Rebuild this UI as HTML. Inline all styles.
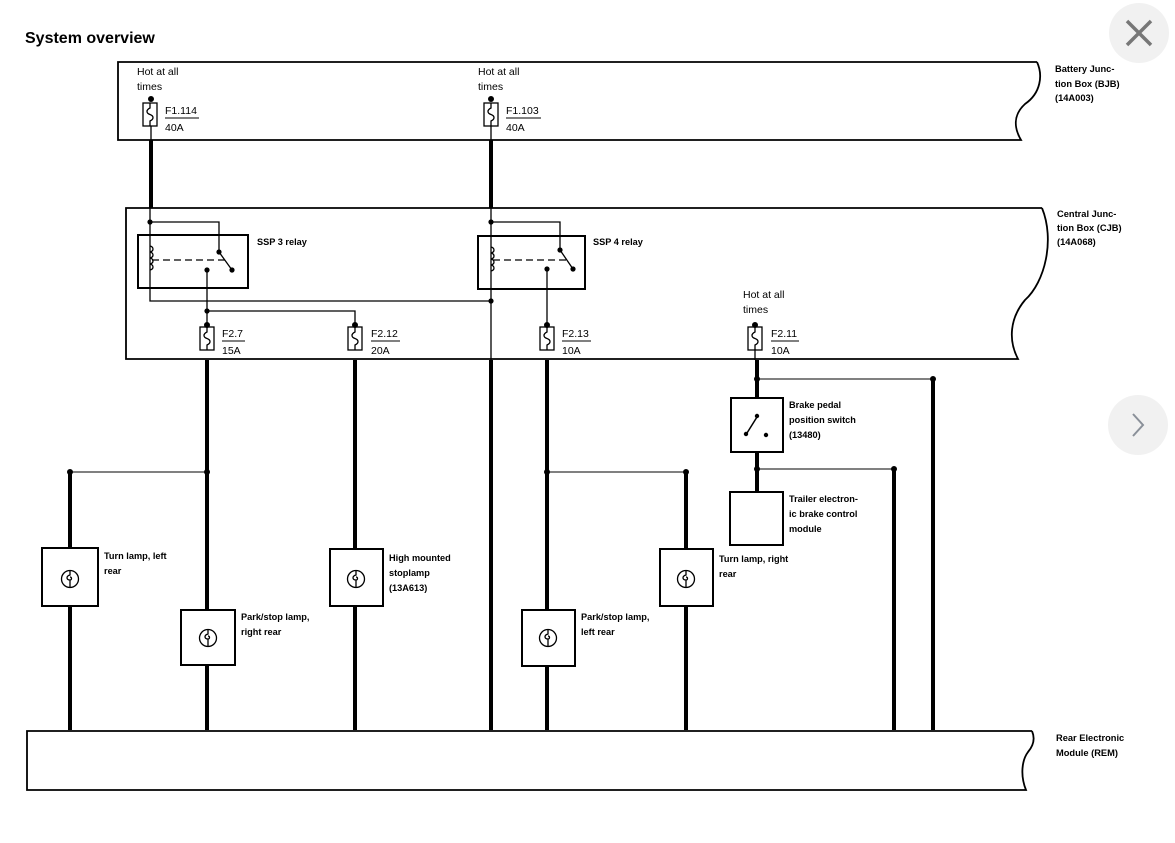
<!DOCTYPE html>
<html><head><meta charset="utf-8"><style>
html,body{margin:0;padding:0;background:#fff;}
svg{display:block;}
text{font-family:"Liberation Sans",sans-serif;fill:#000;}
.b{font-weight:bold;font-size:9.2px;}
.r{font-weight:bold;font-size:9.3px;}
.n{font-size:10.5px;}
</style></head><body>
<svg width="1175" height="843" viewBox="0 0 1175 843" xmlns="http://www.w3.org/2000/svg">
<defs>
<g id="lamp" fill="none" stroke="#000" stroke-width="1.3">
<circle cx="0" cy="0" r="8.5"/>
<path d="M0,-8.5 V-4 C-4,-3 -4,1 0,1 C2,1 2,-2 0,-2 M0,1 V8.5"/>
</g>
<g id="fuse" fill="none" stroke="#000" stroke-width="1.3">
<rect x="-7" y="0" width="14" height="23"/>
<path d="M0,0 V5 C-4,7 -4,10 0,11.5 C4,13 4,16 0,18 V23"/>
</g>
</defs>

<text x="25" y="43" style="font-weight:bold;font-size:16px">System overview</text>

<circle cx="1139" cy="33" r="30" fill="#f1f1f1"/>
<path d="M1127,21 L1151,45 M1151,21 L1127,45" stroke="#777" stroke-width="3.5"/>
<circle cx="1138" cy="425" r="30" fill="#f1f1f1"/>
<path d="M1133,414 L1143,425 L1133,436" stroke="#8a9099" stroke-width="2" fill="none"/>

<g stroke="#000" fill="none" stroke-width="1.8">
<path d="M1037,62 H118 V140 H1021 C1014,128 1013,115 1025,104 C1041,93 1043,75 1037,62"/>
<path d="M1042,208 H126 V359 H1018 C1008,340 1010,318 1025,300 C1045,282 1055,240 1042,208"/>
<path d="M1032,731 H27 V790 H1026 C1020,775 1022,760 1028,752 C1034,745 1035,738 1032,731"/>
</g>

<text class="n" x="137" y="75">Hot at all</text>
<text class="n" x="137" y="90">times</text>
<text class="n" x="478" y="75">Hot at all</text>
<text class="n" x="478" y="90">times</text>
<circle cx="151" cy="99" r="3"/>
<use href="#fuse" x="150" y="103"/>
<text class="n" x="165" y="114">F1.114</text>
<line x1="165" y1="118" x2="199" y2="118" stroke="#000" stroke-width="0.9"/>
<text class="n" x="165" y="131">40A</text>
<circle cx="491" cy="99" r="3"/>
<use href="#fuse" x="491" y="103"/>
<text class="n" x="506" y="114">F1.103</text>
<line x1="506" y1="118" x2="541" y2="118" stroke="#000" stroke-width="0.9"/>
<text class="n" x="506" y="131">40A</text>

<g stroke="#000" fill="none">
<path d="M151,126 V140 M491,126 V140" stroke-width="1.3"/>
<path d="M151,140 V208 M491,140 V208" stroke-width="4"/>
<path d="M150,208 V301 H491 M150,222 H219 V252 L232,270 M207,270 V326 M207,311 H355 V326" stroke-width="1.3"/>
<rect x="138" y="235" width="110" height="53" stroke-width="2"/>
<path d="M152,260 H226" stroke-width="1.3" stroke-dasharray="7,4"/>
<path d="M150,246 c4,1 4,5 0,6 c4,1 4,5 0,6 c4,1 4,5 0,6 c4,1 4,5 0,6" stroke-width="1.3"/>
<path d="M491,208 V360 M491,222 H560 V250 L573,269 M547,269 V326" stroke-width="1.3"/>
<rect x="478" y="236" width="107" height="53" stroke-width="2"/>
<path d="M493,260 H566" stroke-width="1.3" stroke-dasharray="7,4"/>
<path d="M491,247 c4,1 4,5 0,6 c4,1 4,5 0,6 c4,1 4,5 0,6 c4,1 4,5 0,6" stroke-width="1.3"/>
<path d="M755,349 V360" stroke-width="1.3"/>
</g>
<g fill="#000">
<circle cx="150" cy="222" r="2.6"/><circle cx="219" cy="252" r="2.6"/><circle cx="232" cy="270" r="2.6"/>
<circle cx="207" cy="270" r="2.6"/><circle cx="207" cy="311" r="2.6"/>
<circle cx="491" cy="301" r="2.6"/><circle cx="491" cy="222" r="2.6"/>
<circle cx="560" cy="250" r="2.6"/><circle cx="573" cy="269" r="2.6"/><circle cx="547" cy="269" r="2.6"/>
<circle cx="207" cy="325" r="3"/><circle cx="355" cy="325" r="3"/><circle cx="547" cy="325" r="3"/><circle cx="755" cy="325" r="3"/>
</g>
<text class="b" x="257" y="245">SSP 3 relay</text>
<text class="b" x="593" y="245">SSP 4 relay</text>

<use href="#fuse" x="207" y="327"/>
<text class="n" x="222" y="337">F2.7</text>
<line x1="222" y1="341" x2="245" y2="341" stroke="#000" stroke-width="0.9"/>
<text class="n" x="222" y="354">15A</text>
<use href="#fuse" x="355" y="327"/>
<text class="n" x="371" y="337">F2.12</text>
<line x1="371" y1="341" x2="400" y2="341" stroke="#000" stroke-width="0.9"/>
<text class="n" x="371" y="354">20A</text>
<use href="#fuse" x="547" y="327"/>
<text class="n" x="562" y="337">F2.13</text>
<line x1="562" y1="341" x2="591" y2="341" stroke="#000" stroke-width="0.9"/>
<text class="n" x="562" y="354">10A</text>
<text class="n" x="743" y="298">Hot at all</text>
<text class="n" x="743" y="313">times</text>
<use href="#fuse" x="755" y="327"/>
<text class="n" x="771" y="337">F2.11</text>
<line x1="771" y1="341" x2="799" y2="341" stroke="#000" stroke-width="0.9"/>
<text class="n" x="771" y="354">10A</text>

<g stroke="#000" fill="none" stroke-width="4">
<path d="M207,360 V610 M207,665 V730"/>
<path d="M355,360 V549 M355,606 V730"/>
<path d="M491,360 V730"/>
<path d="M547,360 V610 M547,666 V730"/>
<path d="M70,472 V548 M70,606 V730"/>
<path d="M686,472 V549 M686,606 V730"/>
<path d="M757,360 V398 M757,452 V492"/>
<path d="M933,379 V730 M894,469 V730"/>
</g>
<g stroke="#000" fill="none" stroke-width="1.1">
<path d="M70,472 H207 M547,472 H686 M757,379 H933 M757,469 H894"/>
</g>
<g fill="#000">
<circle cx="70" cy="472" r="3"/><circle cx="207" cy="472" r="3"/>
<circle cx="547" cy="472" r="3"/><circle cx="686" cy="472" r="3"/>
<circle cx="757" cy="379" r="3"/><circle cx="933" cy="379" r="3"/>
<circle cx="757" cy="469" r="3"/><circle cx="894" cy="469" r="3"/>
</g>

<g stroke="#000" fill="#fff" stroke-width="2">
<rect x="42" y="548" width="56" height="58"/>
<rect x="181" y="610" width="54" height="55"/>
<rect x="330" y="549" width="53" height="57"/>
<rect x="522" y="610" width="53" height="56"/>
<rect x="660" y="549" width="53" height="57"/>
<rect x="731" y="398" width="52" height="54"/>
<rect x="730" y="492" width="53" height="53"/>
</g>
<use href="#lamp" x="70" y="579"/>
<use href="#lamp" x="208" y="638"/>
<use href="#lamp" x="356" y="579"/>
<use href="#lamp" x="548" y="638"/>
<use href="#lamp" x="686" y="579"/>
<path d="M747,433 L757,417" stroke="#000" stroke-width="1.5"/>
<circle cx="757" cy="416" r="2.2"/><circle cx="746" cy="434" r="2.2"/><circle cx="766" cy="435" r="2.2"/>

<text class="b" x="104" y="559">Turn lamp, left</text>
<text class="b" x="104" y="574">rear</text>
<text class="b" x="241" y="620">Park/stop lamp,</text>
<text class="b" x="241" y="635">right rear</text>
<text class="b" x="389" y="561">High mounted</text>
<text class="b" x="389" y="576">stoplamp</text>
<text class="b" x="389" y="591">(13A613)</text>
<text class="b" x="581" y="620">Park/stop lamp,</text>
<text class="b" x="581" y="635">left rear</text>
<text class="b" x="719" y="562">Turn lamp, right</text>
<text class="b" x="719" y="577">rear</text>
<text class="b" x="789" y="408">Brake pedal</text>
<text class="b" x="789" y="423">position switch</text>
<text class="b" x="789" y="438">(13480)</text>
<text class="b" x="789" y="502">Trailer electron-</text>
<text class="b" x="789" y="517">ic brake control</text>
<text class="b" x="789" y="532">module</text>

<text class="r" x="1055" y="72">Battery Junc-</text>
<text class="r" x="1055" y="87">tion Box (BJB)</text>
<text class="r" x="1055" y="101">(14A003)</text>
<text class="r" x="1057" y="217">Central Junc-</text>
<text class="r" x="1057" y="231">tion Box (CJB)</text>
<text class="r" x="1057" y="245">(14A068)</text>
<text class="r" x="1056" y="741">Rear Electronic</text>
<text class="r" x="1056" y="756">Module (REM)</text>
</svg>
</body></html>
